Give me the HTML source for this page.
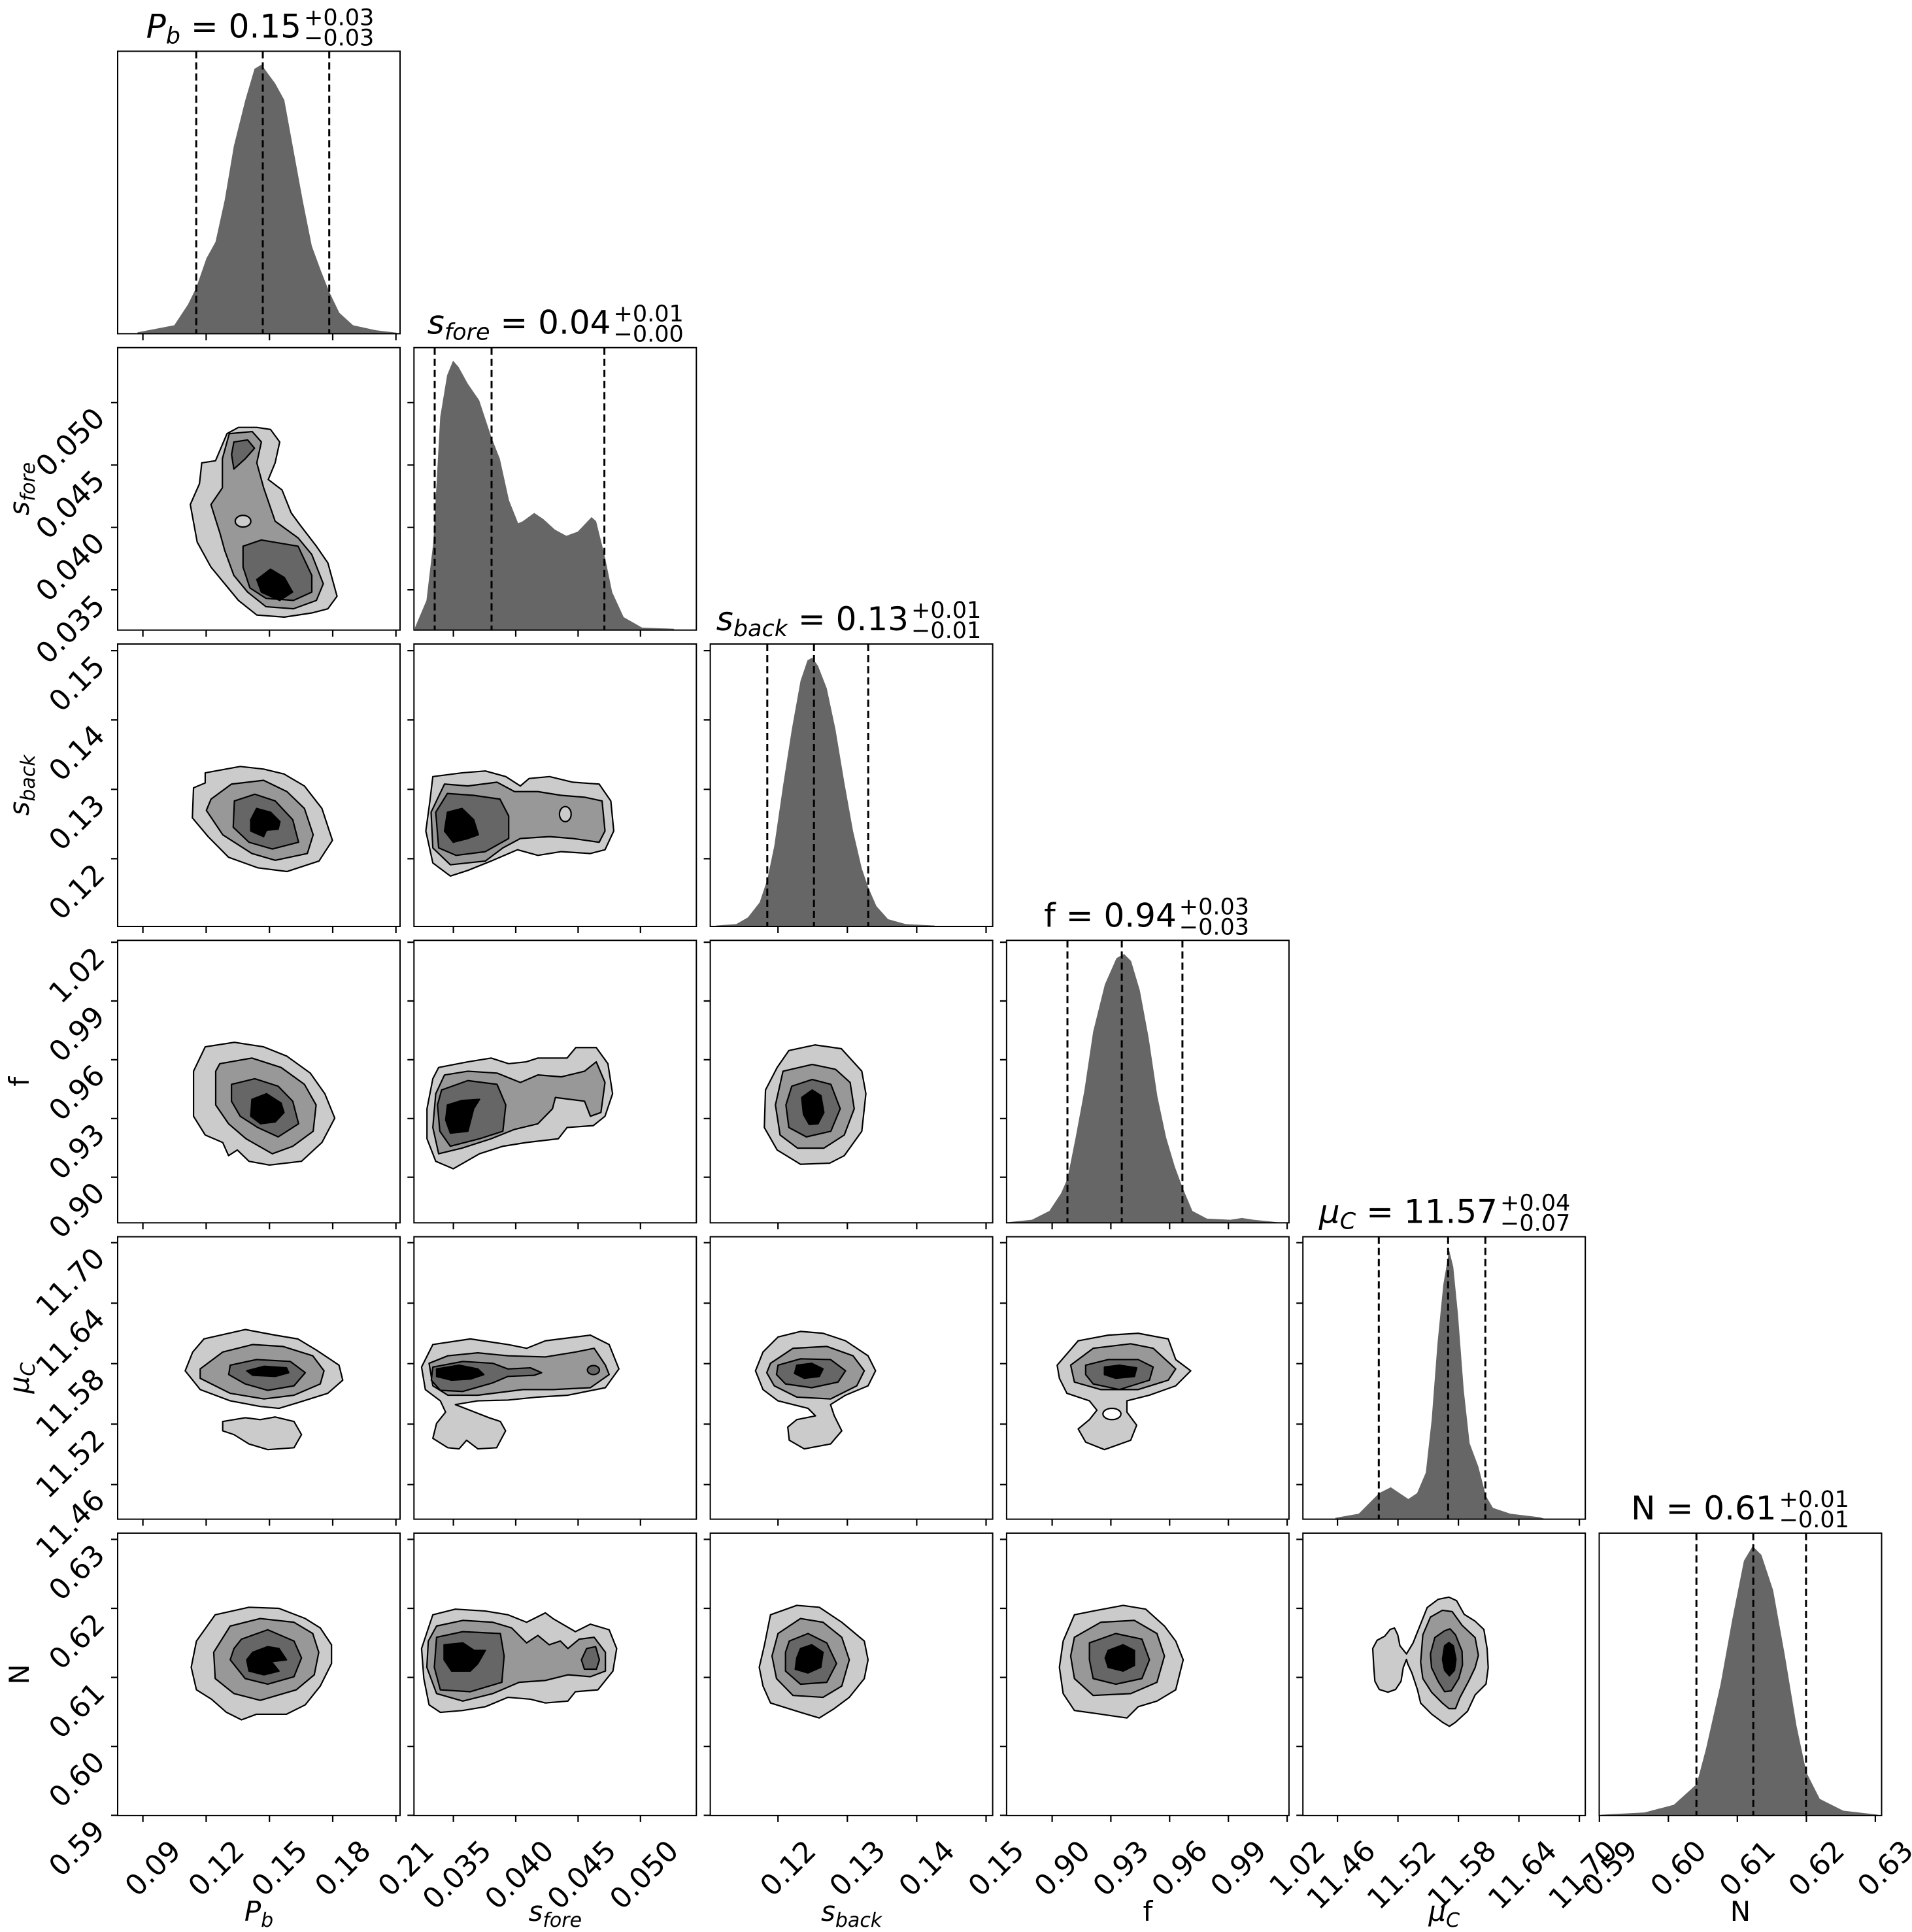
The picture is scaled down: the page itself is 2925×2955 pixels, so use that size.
<!DOCTYPE html>
<html><head><meta charset="utf-8"><style>
html,body{margin:0;padding:0;background:#fff}
svg{display:block}
text{font-family:"DejaVu Sans","Liberation Sans",sans-serif;fill:#000}
.a,.b,.c,.d,.w{stroke:#000;stroke-width:2.2;vector-effect:non-scaling-stroke;stroke-linejoin:round}
.a{fill:#cbcbcb}.b{fill:#989898}.c{fill:#666}.d{fill:#000}.w{fill:#fff}
.h{fill:#666;stroke:none}
.fr{fill:none;stroke:#000;stroke-width:2}
.tk{stroke:#000;stroke-width:2.2;fill:none}
.ds{stroke:#000;stroke-width:3;stroke-dasharray:11 6}
.tl text{font-size:44px}
.ti{font-size:50px}
.ss{font-size:35px}
.al text{font-size:42px}
</style></head><body>
<svg width="2925" height="2955" viewBox="0 0 2925 2955" xmlns="http://www.w3.org/2000/svg">
<rect width="2925" height="2955" fill="#fff"/>

<g transform="translate(0,0) scale(0.70151,0.63776)">
<polygon class="h" points="300,800 300,797 380,780 410,730 428,690 450,620 470,580 490,480 510,350 535,240 555,165 570,155 600,200 620,240 640,360 660,480 680,590 700,650 718,700 740,750 770,780 820,792 865,798 865,800"/>
<polygon class="h" points="905,1511 905,1505 930,1440 945,1300 960,1000 975,900 988,865 1000,880 1020,920 1045,960 1072,1050 1090,1100 1110,1200 1130,1255 1140,1250 1165,1230 1185,1245 1210,1270 1235,1285 1260,1275 1290,1240 1300,1250 1318,1330 1335,1420 1360,1480 1400,1505 1470,1508 1470,1511"/>
<polygon class="a" points="560,1025 590,1030 610,1060 600,1110 585,1150 615,1175 635,1230 655,1260 690,1310 715,1350 735,1430 715,1460 680,1470 620,1480 560,1475 520,1440 490,1400 460,1360 430,1300 415,1210 435,1160 440,1110 470,1105 495,1040 520,1025"/>
<polygon class="b" points="500,1040 550,1035 570,1060 560,1110 575,1170 600,1250 650,1290 680,1330 705,1400 690,1440 640,1460 580,1455 540,1420 510,1380 490,1320 480,1280 460,1210 485,1170 485,1100"/>
<ellipse class="a" cx="530" cy="1250" rx="17" ry="14"/>
<polygon class="c" points="505,1090 510,1060 540,1055 555,1075 535,1100 510,1125"/>
<polygon class="c" points="530,1310 570,1295 650,1310 680,1380 680,1420 640,1440 580,1435 545,1410 530,1360"/>
<polygon class="d" points="560,1390 590,1365 620,1385 638,1420 610,1440 570,1420"/>
</g>

<g transform="translate(180,984) scale(0.89286,0.57405)">
<polygon class="h" points="1025,754 1025,752 1060,748 1080,730 1100,690 1113,630 1125,540 1140,380 1155,230 1170,100 1182,45 1190,38 1200,60 1215,120 1230,230 1245,370 1260,500 1275,600 1286,650 1300,700 1320,735 1350,748 1400,752 1400,754"/>
<polygon class="a" points="150,345 210,328 250,335 285,348 320,380 350,440 368,525 345,580 290,608 240,598 190,570 155,515 128,465 130,385 150,372"/>
<polygon class="b" points="160,415 195,375 250,365 290,395 320,440 335,510 325,560 270,578 230,560 180,510 152,445"/>
<polygon class="c" points="200,420 235,402 270,420 300,470 310,530 265,548 225,530 198,490"/>
<polygon class="d" points="228,470 238,440 262,450 278,475 275,495 255,498 250,515 228,500"/>
<polygon class="a" points="540,355 590,345 630,340 665,355 690,380 705,360 740,355 780,370 825,375 845,420 850,500 835,550 810,560 760,555 720,565 685,550 640,580 600,605 570,620 540,585 528,500 535,420"/>
<polygon class="b" points="560,375 600,380 650,370 680,395 720,395 760,405 800,410 830,420 835,500 825,530 780,520 740,515 690,520 660,545 630,580 570,590 540,545 537,450"/>
<ellipse class="a" cx="767" cy="455" rx="10" ry="20"/>
<polygon class="c" points="565,400 610,405 655,415 670,460 670,520 630,555 580,565 550,545 545,450"/>
<polygon class="d" points="565,450 590,440 610,470 618,510 600,520 575,530 560,500"/>
<polygon class="a" points="150,1075 200,1063 250,1075 290,1100 330,1145 355,1200 372,1265 350,1330 315,1380 260,1390 225,1380 205,1350 190,1365 180,1330 150,1310 130,1260 130,1140"/>
<polygon class="b" points="175,1120 230,1105 280,1130 320,1175 340,1230 335,1300 300,1340 265,1360 220,1320 190,1280 168,1230 168,1140"/>
<polygon class="c" points="195,1175 235,1160 275,1180 300,1220 310,1280 275,1315 240,1290 210,1260 195,1220"/>
<polygon class="d" points="230,1215 255,1200 280,1225 285,1250 270,1275 245,1280 228,1260"/>
<polygon class="a" points="550,1130 600,1115 640,1105 670,1120 700,1115 720,1105 770,1105 785,1077 820,1077 840,1120 848,1200 835,1260 815,1285 770,1290 755,1320 700,1330 660,1340 620,1360 575,1400 545,1380 530,1320 530,1240 540,1160"/>
<polygon class="b" points="560,1150 600,1140 650,1145 690,1170 720,1150 760,1155 800,1140 820,1115 835,1170 828,1250 810,1260 800,1220 750,1210 745,1240 720,1280 680,1295 640,1320 590,1345 550,1360 540,1290 545,1200"/>
<polygon class="c" points="555,1190 600,1165 650,1175 665,1230 660,1300 620,1320 570,1340 552,1300 548,1230"/>
<polygon class="d" points="565,1230 590,1218 620,1215 610,1240 600,1300 570,1305 562,1270"/>
<polygon class="a" points="1150,1085 1195,1070 1240,1080 1275,1140 1282,1200 1275,1300 1245,1365 1220,1385 1170,1388 1130,1350 1108,1290 1110,1190 1130,1130"/>
<polygon class="b" points="1140,1140 1190,1122 1230,1135 1255,1170 1262,1240 1245,1310 1210,1345 1165,1345 1135,1310 1127,1230"/>
<polygon class="c" points="1155,1180 1190,1162 1222,1175 1238,1240 1222,1300 1180,1315 1150,1290 1145,1230"/>
<polygon class="d" points="1172,1210 1190,1190 1205,1205 1210,1250 1200,1280 1185,1282 1175,1255"/>
</g>

<g transform="translate(180,1890) scale(1.14796,0.57405)">
<polygon class="a" points="115,275 170,250 210,265 240,275 265,305 295,345 300,385 280,420 240,445 215,460 190,455 150,440 110,410 90,360 100,310"/>
<polygon class="a" points="140,495 170,485 190,490 210,483 235,495 245,530 235,565 200,570 175,555 155,530 140,520"/>
<polygon class="b" points="110,355 140,310 180,290 220,295 260,320 275,360 270,395 235,425 195,435 150,420 110,380"/>
<polygon class="c" points="150,345 185,330 230,335 250,365 235,400 200,412 170,395 148,370"/>
<polygon class="d" points="172,360 195,348 225,352 228,365 210,375 180,372"/>
<polygon class="a" points="420,290 470,275 520,290 545,300 570,280 630,265 655,290 668,355 650,405 600,425 560,430 520,438 480,440 450,450 495,485 510,495 517,520 505,565 480,568 465,545 455,568 440,565 420,540 425,500 437,470 430,440 410,410 405,350"/>
<polygon class="b" points="415,340 440,320 480,312 520,320 570,323 610,310 635,300 650,345 655,370 630,405 580,410 540,410 480,425 440,425 420,400"/>
<polygon class="c" points="420,350 460,335 500,340 520,355 550,352 565,365 555,372 520,375 500,392 460,415 430,412 418,385"/>
<ellipse class="c" cx="634" cy="358" rx="8" ry="12"/>
<polygon class="d" points="425,355 455,345 480,355 488,370 470,382 445,385 425,375"/>
<polygon class="a" points="880,270 910,255 940,260 970,280 1000,320 1010,360 1000,400 970,425 950,450 955,480 965,520 950,555 915,568 895,545 893,510 905,490 930,480 920,460 880,440 860,410 850,360 860,310"/>
<polygon class="b" points="870,340 900,300 945,295 980,320 995,360 985,400 950,435 905,430 875,400 865,365"/>
<polygon class="c" points="880,345 910,328 950,330 970,360 960,390 925,405 890,395 878,370"/>
<polygon class="d" points="905,345 925,340 940,355 935,375 915,380 902,367"/>
<polygon class="a" points="1280,280 1320,265 1360,260 1400,275 1410,330 1430,360 1410,400 1375,425 1345,440 1345,470 1358,505 1350,545 1315,570 1290,550 1280,515 1295,490 1305,465 1295,440 1265,420 1255,380 1252,345"/>
<ellipse class="w" cx="1325" cy="475" rx="12" ry="15"/>
<polygon class="b" points="1270,345 1300,300 1350,288 1380,300 1410,355 1400,385 1360,410 1310,410 1275,390"/>
<polygon class="c" points="1290,345 1320,330 1360,330 1380,350 1375,385 1335,410 1300,395 1290,370"/>
<polygon class="d" points="1315,350 1335,345 1358,352 1355,375 1330,380 1315,370"/>
<polygon class="a" points="130,1010 175,990 215,993 250,1020 270,1045 285,1090 285,1140 270,1200 250,1250 225,1275 185,1275 165,1290 145,1270 125,1235 105,1210 98,1150 105,1080"/>
<polygon class="b" points="150,1040 190,1020 235,1030 260,1060 268,1110 262,1170 238,1210 190,1238 155,1220 130,1180 128,1110"/>
<polygon class="c" points="165,1075 200,1050 235,1080 245,1125 235,1175 200,1195 170,1180 150,1130 155,1100"/>
<polygon class="d" points="180,1110 200,1095 215,1100 225,1130 205,1135 215,1160 195,1170 175,1160 172,1130"/>
<polygon class="a" points="420,1010 450,995 490,1000 520,1010 545,1030 570,1005 580,1020 610,1055 630,1035 655,1050 665,1100 660,1160 640,1210 610,1215 600,1240 570,1245 550,1235 520,1230 490,1255 460,1265 430,1270 415,1250 408,1180 405,1100"/>
<polygon class="b" points="425,1040 460,1025 500,1030 525,1045 545,1085 560,1065 575,1090 590,1080 600,1100 615,1075 635,1070 650,1110 650,1160 630,1175 600,1170 570,1185 535,1190 500,1220 460,1240 425,1220 412,1150 414,1080"/>
<polygon class="c" points="425,1070 460,1055 510,1060 515,1120 512,1190 470,1215 430,1210 422,1150"/>
<polygon class="c" points="625,1100 637,1095 642,1130 638,1155 622,1155 618,1130"/>
<polygon class="d" points="435,1090 460,1085 475,1105 490,1105 480,1140 470,1160 445,1160 435,1130"/>
<polygon class="a" points="870,1010 905,985 935,990 965,1030 995,1080 1000,1130 995,1180 975,1230 955,1260 935,1285 910,1270 870,1245 860,1200 855,1150 862,1090"/>
<polygon class="b" points="880,1060 910,1020 940,1030 965,1070 975,1130 965,1200 940,1230 900,1225 878,1180 872,1120"/>
<polygon class="c" points="895,1080 920,1060 945,1085 958,1140 945,1190 910,1195 890,1160 890,1110"/>
<polygon class="d" points="910,1100 925,1090 940,1110 937,1150 920,1165 903,1155 905,1125"/>
<polygon class="a" points="1275,1010 1300,1000 1340,985 1370,995 1395,1040 1410,1080 1420,1130 1410,1210 1385,1240 1360,1255 1345,1285 1300,1272 1275,1265 1260,1220 1255,1150 1260,1080"/>
<polygon class="b" points="1275,1070 1310,1030 1355,1025 1385,1060 1395,1120 1385,1190 1350,1220 1300,1225 1275,1180 1270,1120"/>
<polygon class="c" points="1295,1085 1330,1060 1365,1075 1375,1130 1365,1180 1330,1195 1300,1180 1295,1130"/>
<polygon class="d" points="1320,1105 1340,1090 1355,1105 1355,1145 1340,1160 1320,1150 1316,1125"/>
</g>

<g transform="translate(1980,2300) scale(0.33333,0.41771)">
<polygon class="a" points="610,380 660,350 710,342 745,355 780,405 830,430 870,460 885,530 890,600 880,660 830,700 795,760 740,800 712,815 680,800 630,770 580,730 565,680 540,620 520,585 515,570 500,600 490,650 465,680 430,690 390,680 370,650 365,600 360,530 380,500 415,485 440,460 460,455 475,480 485,520 515,550 545,510 580,440"/>
<polygon class="b" points="625,415 680,390 725,395 770,445 830,490 845,555 830,600 800,650 760,710 740,750 710,750 680,730 630,690 590,640 580,580 590,480"/>
<polygon class="c" points="645,490 690,465 715,458 740,480 770,540 772,590 755,640 720,685 690,688 660,650 630,600 625,550"/>
<polygon class="d" points="690,520 710,508 730,520 742,570 735,610 712,630 690,610 680,570"/>
</g>

<g transform="translate(1525,1380) scale(0.89286,0.89928)">
<polygon class="h" points="20,545 20,544 60,540 90,525 110,495 121,470 135,400 150,320 165,220 185,140 205,95 218,88 230,100 245,150 260,230 275,330 290,400 305,450 318,485 335,525 360,538 400,540 420,537 440,540 480,544 480,545"/>
<polygon class="h" points="580,1049 580,1047 620,1040 640,1020 655,1005 675,995 690,1005 705,1015 720,1005 735,970 745,880 755,750 765,650 775,592 782,620 790,700 800,830 810,920 825,960 838,1010 850,1030 880,1040 930,1046 940,1049"/>
<polygon class="h" points="1035,1553 1035,1552 1110,1548 1160,1535 1199,1500 1215,1440 1240,1330 1260,1220 1280,1120 1295,1095 1310,1110 1330,1170 1350,1280 1370,1400 1387,1480 1410,1525 1450,1545 1510,1552 1510,1553"/>
</g>

<g class="ds">
<path d="M300.2 78.4V510.4M402 78.4V510.4M503.7 78.4V510.4"/>
<path d="M665 531.7V963.7M752 531.7V963.7M924.6 531.7V963.7"/>
<path d="M1173.8 985V1417M1245.2 985V1417M1328.2 985V1417"/>
<path d="M1633 1438.3V1870.3M1716.1 1438.3V1870.3M1808.9 1438.3V1870.3"/>
<path d="M2109.3 1891.6V2323.6M2215.3 1891.6V2323.6M2272.3 1891.6V2323.6"/>
<path d="M2595.2 2344.9V2776.9M2682.2 2344.9V2776.9M2762.9 2344.9V2776.9"/>
</g>

<g class="fr">
<rect x="180" y="78.4" width="432" height="432"/>
<rect x="180" y="531.7" width="432" height="432"/><rect x="633.3" y="531.7" width="432" height="432"/>
<rect x="180" y="985" width="432" height="432"/><rect x="633.3" y="985" width="432" height="432"/><rect x="1086.6" y="985" width="432" height="432"/>
<rect x="180" y="1438.3" width="432" height="432"/><rect x="633.3" y="1438.3" width="432" height="432"/><rect x="1086.6" y="1438.3" width="432" height="432"/><rect x="1539.9" y="1438.3" width="432" height="432"/>
<rect x="180" y="1891.6" width="432" height="432"/><rect x="633.3" y="1891.6" width="432" height="432"/><rect x="1086.6" y="1891.6" width="432" height="432"/><rect x="1539.9" y="1891.6" width="432" height="432"/><rect x="1993.2" y="1891.6" width="432" height="432"/>
<rect x="180" y="2344.9" width="432" height="432"/><rect x="633.3" y="2344.9" width="432" height="432"/><rect x="1086.6" y="2344.9" width="432" height="432"/><rect x="1539.9" y="2344.9" width="432" height="432"/><rect x="1993.2" y="2344.9" width="432" height="432"/><rect x="2446.5" y="2344.9" width="432" height="432"/>
</g>

<g class="tk">
<path d="M218.6 510.4v10M315.4 510.4v10M412.2 510.4v10M509 510.4v10M605.7 510.4v10
M218.6 963.7v10M315.4 963.7v10M412.2 963.7v10M509 963.7v10M605.7 963.7v10
M218.6 1417v10M315.4 1417v10M412.2 1417v10M509 1417v10M605.7 1417v10
M218.6 1870.3v10M315.4 1870.3v10M412.2 1870.3v10M509 1870.3v10M605.7 1870.3v10
M218.6 2323.6v10M315.4 2323.6v10M412.2 2323.6v10M509 2323.6v10M605.7 2323.6v10
M218.6 2776.9v10M315.4 2776.9v10M412.2 2776.9v10M509 2776.9v10M605.7 2776.9v10"/>
<path d="M693.6 963.7v10M789 963.7v10M884.4 963.7v10M979.8 963.7v10
M693.6 1417v10M789 1417v10M884.4 1417v10M979.8 1417v10
M693.6 1870.3v10M789 1870.3v10M884.4 1870.3v10M979.8 1870.3v10
M693.6 2323.6v10M789 2323.6v10M884.4 2323.6v10M979.8 2323.6v10
M693.6 2776.9v10M789 2776.9v10M884.4 2776.9v10M979.8 2776.9v10"/>
<path d="M1190.2 1417v10M1296.3 1417v10M1402.4 1417v10M1508.5 1417v10
M1190.2 1870.3v10M1296.3 1870.3v10M1402.4 1870.3v10M1508.5 1870.3v10
M1190.2 2323.6v10M1296.3 2323.6v10M1402.4 2323.6v10M1508.5 2323.6v10
M1190.2 2776.9v10M1296.3 2776.9v10M1402.4 2776.9v10M1508.5 2776.9v10"/>
<path d="M1609.6 1870.3v10M1699.4 1870.3v10M1789.3 1870.3v10M1879.2 1870.3v10M1969.1 1870.3v10
M1609.6 2323.6v10M1699.4 2323.6v10M1789.3 2323.6v10M1879.2 2323.6v10M1969.1 2323.6v10
M1609.6 2776.9v10M1699.4 2776.9v10M1789.3 2776.9v10M1879.2 2776.9v10M1969.1 2776.9v10"/>
<path d="M2046.1 2323.6v10M2138.6 2323.6v10M2231.1 2323.6v10M2323.6 2323.6v10M2416.1 2323.6v10
M2046.1 2776.9v10M2138.6 2776.9v10M2231.1 2776.9v10M2323.6 2776.9v10M2416.1 2776.9v10"/>
<path d="M2446.8 2776.9v10M2552.3 2776.9v10M2657.8 2776.9v10M2763.4 2776.9v10M2868.9 2776.9v10"/>
<path d="M170 615.8h10M170 711.3h10M170 806.7h10M170 902.1h10
M623.3 615.8h10M623.3 711.3h10M623.3 806.7h10M623.3 902.1h10"/>
<path d="M170 995.1h10M170 1101.2h10M170 1207.3h10M170 1313.4h10
M623.3 995.1h10M623.3 1101.2h10M623.3 1207.3h10M623.3 1313.4h10
M1076.6 995.1h10M1076.6 1101.2h10M1076.6 1207.3h10M1076.6 1313.4h10"/>
<path d="M170 1441.1h10M170 1531h10M170 1620.9h10M170 1710.8h10M170 1800.6h10
M623.3 1441.1h10M623.3 1531h10M623.3 1620.9h10M623.3 1710.8h10M623.3 1800.6h10
M1076.6 1441.1h10M1076.6 1531h10M1076.6 1620.9h10M1076.6 1710.8h10M1076.6 1800.6h10
M1529.9 1441.1h10M1529.9 1531h10M1529.9 1620.9h10M1529.9 1710.8h10M1529.9 1800.6h10"/>
<path d="M170 1900.7h10M170 1993.2h10M170 2085.7h10M170 2178.2h10M170 2270.7h10
M623.3 1900.7h10M623.3 1993.2h10M623.3 2085.7h10M623.3 2178.2h10M623.3 2270.7h10
M1076.6 1900.7h10M1076.6 1993.2h10M1076.6 2085.7h10M1076.6 2178.2h10M1076.6 2270.7h10
M1529.9 1900.7h10M1529.9 1993.2h10M1529.9 2085.7h10M1529.9 2178.2h10M1529.9 2270.7h10
M1983.2 1900.7h10M1983.2 1993.2h10M1983.2 2085.7h10M1983.2 2178.2h10M1983.2 2270.7h10"/>
<path d="M170 2354.5h10M170 2460h10M170 2565.6h10M170 2671.1h10M170 2776.6h10
M623.3 2354.5h10M623.3 2460h10M623.3 2565.6h10M623.3 2671.1h10M623.3 2776.6h10
M1076.6 2354.5h10M1076.6 2460h10M1076.6 2565.6h10M1076.6 2671.1h10M1076.6 2776.6h10
M1529.9 2354.5h10M1529.9 2460h10M1529.9 2565.6h10M1529.9 2671.1h10M1529.9 2776.6h10
M1983.2 2354.5h10M1983.2 2460h10M1983.2 2565.6h10M1983.2 2671.1h10M1983.2 2776.6h10"/>
</g>

<g class="tl" text-anchor="end" font-size="44">
<text font-size="44" transform="translate(256.6,2811) rotate(-45)" y="32">0.09</text>
<text font-size="44" transform="translate(353.4,2811) rotate(-45)" y="32">0.12</text>
<text font-size="44" transform="translate(450.2,2811) rotate(-45)" y="32">0.15</text>
<text font-size="44" transform="translate(547,2811) rotate(-45)" y="32">0.18</text>
<text font-size="44" transform="translate(643.7,2811) rotate(-45)" y="32">0.21</text>
<text font-size="44" transform="translate(731.6,2811) rotate(-45)" y="32">0.035</text>
<text font-size="44" transform="translate(827,2811) rotate(-45)" y="32">0.040</text>
<text font-size="44" transform="translate(922.4,2811) rotate(-45)" y="32">0.045</text>
<text font-size="44" transform="translate(1017.8,2811) rotate(-45)" y="32">0.050</text>
<text font-size="44" transform="translate(1228.2,2811) rotate(-45)" y="32">0.12</text>
<text font-size="44" transform="translate(1334.3,2811) rotate(-45)" y="32">0.13</text>
<text font-size="44" transform="translate(1440.4,2811) rotate(-45)" y="32">0.14</text>
<text font-size="44" transform="translate(1546.5,2811) rotate(-45)" y="32">0.15</text>
<text font-size="44" transform="translate(1647.6,2811) rotate(-45)" y="32">0.90</text>
<text font-size="44" transform="translate(1737.4,2811) rotate(-45)" y="32">0.93</text>
<text font-size="44" transform="translate(1827.3,2811) rotate(-45)" y="32">0.96</text>
<text font-size="44" transform="translate(1917.2,2811) rotate(-45)" y="32">0.99</text>
<text font-size="44" transform="translate(2007.1,2811) rotate(-45)" y="32">1.02</text>
<text font-size="44" transform="translate(2084.1,2811) rotate(-45)" y="32">11.46</text>
<text font-size="44" transform="translate(2176.6,2811) rotate(-45)" y="32">11.52</text>
<text font-size="44" transform="translate(2269.1,2811) rotate(-45)" y="32">11.58</text>
<text font-size="44" transform="translate(2361.6,2811) rotate(-45)" y="32">11.64</text>
<text font-size="44" transform="translate(2454.1,2811) rotate(-45)" y="32">11.70</text>
<text font-size="44" transform="translate(2484.8,2811) rotate(-45)" y="32">0.59</text>
<text font-size="44" transform="translate(2590.3,2811) rotate(-45)" y="32">0.60</text>
<text font-size="44" transform="translate(2695.8,2811) rotate(-45)" y="32">0.61</text>
<text font-size="44" transform="translate(2801.4,2811) rotate(-45)" y="32">0.62</text>
<text font-size="44" transform="translate(2906.9,2811) rotate(-45)" y="32">0.63</text>
</g>

<g class="tl" text-anchor="end" font-size="44">
<text font-size="44" transform="translate(140,619.8) rotate(-45)" y="32">0.050</text>
<text font-size="44" transform="translate(140,715.3) rotate(-45)" y="32">0.045</text>
<text font-size="44" transform="translate(140,810.7) rotate(-45)" y="32">0.040</text>
<text font-size="44" transform="translate(140,906.1) rotate(-45)" y="32">0.035</text>
<text font-size="44" transform="translate(140,999.1) rotate(-45)" y="32">0.15</text>
<text font-size="44" transform="translate(140,1105.2) rotate(-45)" y="32">0.14</text>
<text font-size="44" transform="translate(140,1211.3) rotate(-45)" y="32">0.13</text>
<text font-size="44" transform="translate(140,1317.4) rotate(-45)" y="32">0.12</text>
<text font-size="44" transform="translate(140,1445.1) rotate(-45)" y="32">1.02</text>
<text font-size="44" transform="translate(140,1535) rotate(-45)" y="32">0.99</text>
<text font-size="44" transform="translate(140,1624.9) rotate(-45)" y="32">0.96</text>
<text font-size="44" transform="translate(140,1714.8) rotate(-45)" y="32">0.93</text>
<text font-size="44" transform="translate(140,1804.6) rotate(-45)" y="32">0.90</text>
<text font-size="44" transform="translate(140,1904.7) rotate(-45)" y="32">11.70</text>
<text font-size="44" transform="translate(140,1997.2) rotate(-45)" y="32">11.64</text>
<text font-size="44" transform="translate(140,2089.7) rotate(-45)" y="32">11.58</text>
<text font-size="44" transform="translate(140,2182.2) rotate(-45)" y="32">11.52</text>
<text font-size="44" transform="translate(140,2274.7) rotate(-45)" y="32">11.46</text>
<text font-size="44" transform="translate(140,2358.5) rotate(-45)" y="32">0.63</text>
<text font-size="44" transform="translate(140,2464) rotate(-45)" y="32">0.62</text>
<text font-size="44" transform="translate(140,2569.6) rotate(-45)" y="32">0.61</text>
<text font-size="44" transform="translate(140,2675.1) rotate(-45)" y="32">0.60</text>
<text font-size="44" transform="translate(140,2780.6) rotate(-45)" y="32">0.59</text>
</g>

<g class="al" text-anchor="middle" font-size="42">
<text font-size="42" x="396" y="2938"><tspan font-style="italic">P</tspan><tspan font-style="italic" font-size="30" dy="9">b</tspan></text>
<text font-size="42" x="849.3" y="2938"><tspan font-style="italic">s</tspan><tspan font-style="italic" font-size="30" dy="9">fore</tspan></text>
<text font-size="42" x="1302.6" y="2938"><tspan font-style="italic">s</tspan><tspan font-style="italic" font-size="30" dy="9">back</tspan></text>
<text font-size="42" x="1755.9" y="2938">f</text>
<text font-size="42" x="2209.2" y="2938"><tspan font-style="italic">μ</tspan><tspan font-style="italic" font-size="30" dy="9">C</tspan></text>
<text font-size="42" x="2662.5" y="2938">N</text>
</g>
<g class="al" text-anchor="middle" font-size="42">
<text font-size="42" transform="translate(44,747.7) rotate(-90)"><tspan font-style="italic">s</tspan><tspan font-style="italic" font-size="30" dy="9">fore</tspan></text>
<text font-size="42" transform="translate(44,1201) rotate(-90)"><tspan font-style="italic">s</tspan><tspan font-style="italic" font-size="30" dy="9">back</tspan></text>
<text font-size="42" transform="translate(44,1654.3) rotate(-90)">f</text>
<text font-size="42" transform="translate(44,2107.6) rotate(-90)"><tspan font-style="italic">μ</tspan><tspan font-style="italic" font-size="30" dy="9">C</tspan></text>
<text font-size="42" transform="translate(44,2560.9) rotate(-90)">N</text>
</g>

<g>
<text class="ti" x="461" y="57.4" text-anchor="end"><tspan font-style="italic">P</tspan><tspan font-style="italic" font-size="35" dy="9">b</tspan><tspan dy="-9"> = 0.15</tspan></text>
<text class="ss" x="465" y="38.4">+0.03</text><text class="ss" x="465" y="69.4">−0.03</text>

<text class="ti" x="934.5" y="510.7" text-anchor="end"><tspan font-style="italic">s</tspan><tspan font-style="italic" font-size="35" dy="9">fore</tspan><tspan dy="-9"> = 0.04</tspan></text>
<text class="ss" x="938.5" y="491.7">+0.01</text><text class="ss" x="938.5" y="522.7">−0.00</text>

<text class="ti" x="1390" y="964" text-anchor="end"><tspan font-style="italic">s</tspan><tspan font-style="italic" font-size="35" dy="9">back</tspan><tspan dy="-9"> = 0.13</tspan></text>
<text class="ss" x="1394" y="945">+0.01</text><text class="ss" x="1394" y="976">−0.01</text>

<text class="ti" x="1799.8" y="1417.3" text-anchor="end">f = 0.94</text>
<text class="ss" x="1803.8" y="1398.3">+0.03</text><text class="ss" x="1803.8" y="1429.3">−0.03</text>

<text class="ti" x="2291" y="1870.6" text-anchor="end"><tspan font-style="italic">μ</tspan><tspan font-style="italic" font-size="35" dy="9">C</tspan><tspan dy="-9"> = 11.57</tspan></text>
<text class="ss" x="2295" y="1851.6">+0.04</text><text class="ss" x="2295" y="1882.6">−0.07</text>

<text class="ti" x="2717.6" y="2323.9" text-anchor="end">N = 0.61</text>
<text class="ss" x="2721.6" y="2304.9">+0.01</text><text class="ss" x="2721.6" y="2335.9">−0.01</text>
</g>
</svg>
</body></html>
